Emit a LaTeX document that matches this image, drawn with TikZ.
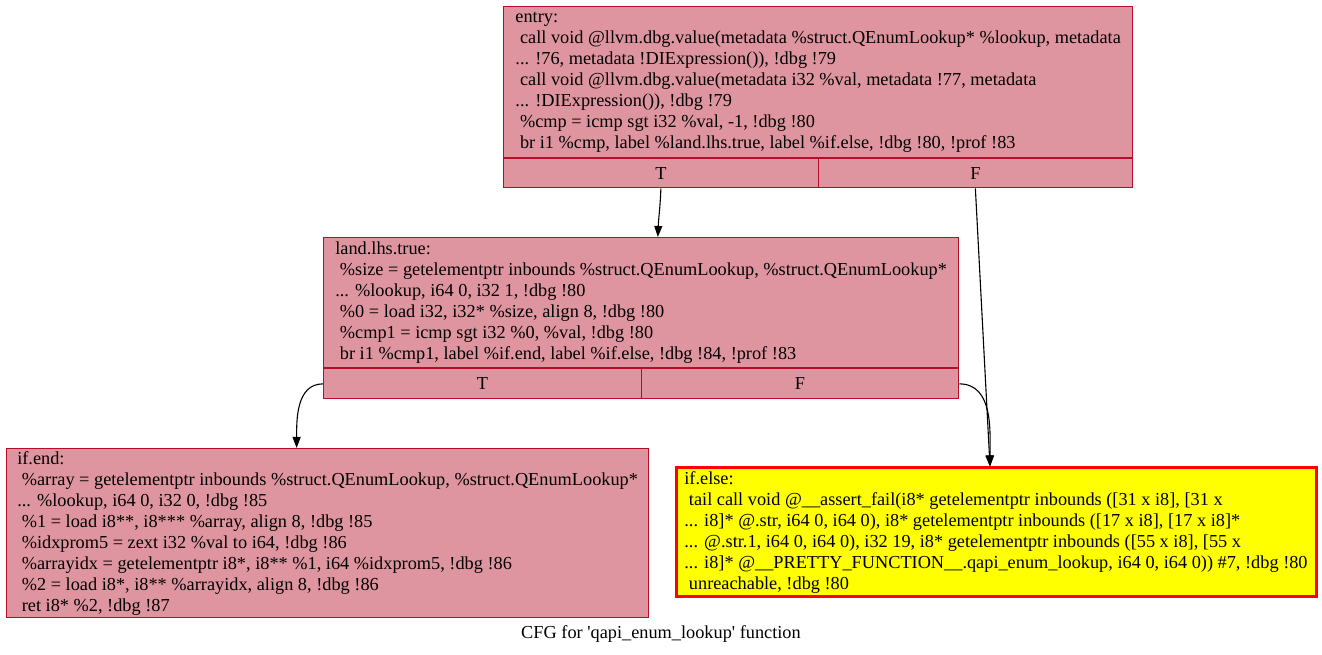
\documentclass[tikz,border=0pt]{standalone}
\usepackage{fontspec}
\setmainfont{Liberation Serif}
\usepackage{xcolor}
\usepackage{tikz}
\usetikzlibrary{positioning,arrows.meta,calc}
\definecolor{llvmr}{RGB}{183,13,40}
\definecolor{llvmy}{RGB}{255,255,0}
\definecolor{llvmx}{RGB}{255,0,0}
\newcommand{\cblk}{llvmr!44!white}
\newcommand{\celse}{llvmy}
\tikzset{
	every node/.style = { align = left, inner sep=0pt, font=\fontsize{18.3}{21}\selectfont },
	bb/.style = { draw=llvmr, fill=\cblk, line width=1.25pt, anchor=north west },
	port/.style = { bb, align=center, minimum height=29pt },
	sink/.style = { draw=llvmx, fill=\celse, line width=3pt, anchor=north west },
	clr/.style = { draw=none, fill=none },
}

\begin{document}
\begin{tikzpicture}[x=1pt, y=1pt, >={Triangle[length=11pt,width=8pt]}, line width=1.1pt]
\path[use as bounding box, fill=white] (0,0) rectangle (1322,655);

\node (entry) [bb, minimum width=629pt, minimum height=151pt] at (503,649)
 {entry:\\
 \ call void @llvm.dbg.value(metadata \%struct.QEnumLookup* \%lookup, metadata\\
 ... !76, metadata !DIExpression()), !dbg !79\\
 \ call void @llvm.dbg.value(metadata i32 \%val, metadata !77, metadata\\
 ... !DIExpression()), !dbg !79\\
 \ \%cmp = icmp sgt i32 \%val, -1, !dbg !80\\
 \ br i1 \%cmp, label \%land.lhs.true, label \%if.else, !dbg !80, !prof !83};
\node (eT) [port, minimum width=314.5pt, below right=0pt of entry.south west] {T};
\node (eF) [port, minimum width=314.5pt, below left=0pt of entry.south east] {F};

\node (land) [bb, minimum width=635pt, minimum height=130pt] at (323,418)
 {land.lhs.true:\\
 \ \%size = getelementptr inbounds \%struct.QEnumLookup, \%struct.QEnumLookup*\\
 ... \%lookup, i64 0, i32 1, !dbg !80\\
 \ \%0 = load i32, i32* \%size, align 8, !dbg !80\\
 \ \%cmp1 = icmp sgt i32 \%0, \%val, !dbg !80\\
 \ br i1 \%cmp1, label \%if.end, label \%if.else, !dbg !84, !prof !83};
\node (lT) [port, minimum width=317.5pt, minimum height=30pt, below right=0pt of land.south west] {T};
\node (lF) [port, minimum width=317.5pt, minimum height=30pt, below left=0pt of land.south east] {F};

\node (end) [bb, minimum width=642pt, minimum height=169pt] at (6,207)
 {if.end:\\
 \ \%array = getelementptr inbounds \%struct.QEnumLookup, \%struct.QEnumLookup*\\
 ... \%lookup, i64 0, i32 0, !dbg !85\\
 \ \%1 = load i8**, i8*** \%array, align 8, !dbg !85\\
 \ \%idxprom5 = zext i32 \%val to i64, !dbg !86\\
 \ \%arrayidx = getelementptr i8*, i8** \%1, i64 \%idxprom5, !dbg !86\\
 \ \%2 = load i8*, i8** \%arrayidx, align 8, !dbg !86\\
 \ ret i8* \%2, !dbg !87};

\node (else) [sink, minimum width=640pt, minimum height=129pt] at (674.5,188.5)
 {if.else:\\
 \ tail call void @\_\_assert\_fail(i8* getelementptr inbounds ([31 x i8], [31 x\\
 ... i8]* @.str, i64 0, i64 0), i8* getelementptr inbounds ([17 x i8], [17 x i8]*\\
 ... @.str.1, i64 0, i64 0), i32 19, i8* getelementptr inbounds ([55 x i8], [55 x\\
 ... i8]* @\_\_PRETTY\_FUNCTION\_\_.qapi\_enum\_lookup, i64 0, i64 0)) \#7, !dbg !80\\
 \ unreachable, !dbg !80};

\node (cap) [clr] at (661,21) {CFG for \textquotesingle qapi\_enum\_lookup\textquotesingle{} function};

\draw[->] (eT.south) to[out=-92,in=88] ([xshift=-3pt]eT.south|-land.north);
\draw[->] (eF.south) -- ([xshift=-6pt]else.north);
\draw[->] (lT.west) to[out=180,in=90] ([xshift=-31pt]end.north);
\draw[->] (lF.east) to[out=0,in=90] ([xshift=-6pt]else.north);

\end{tikzpicture}
\end{document}
